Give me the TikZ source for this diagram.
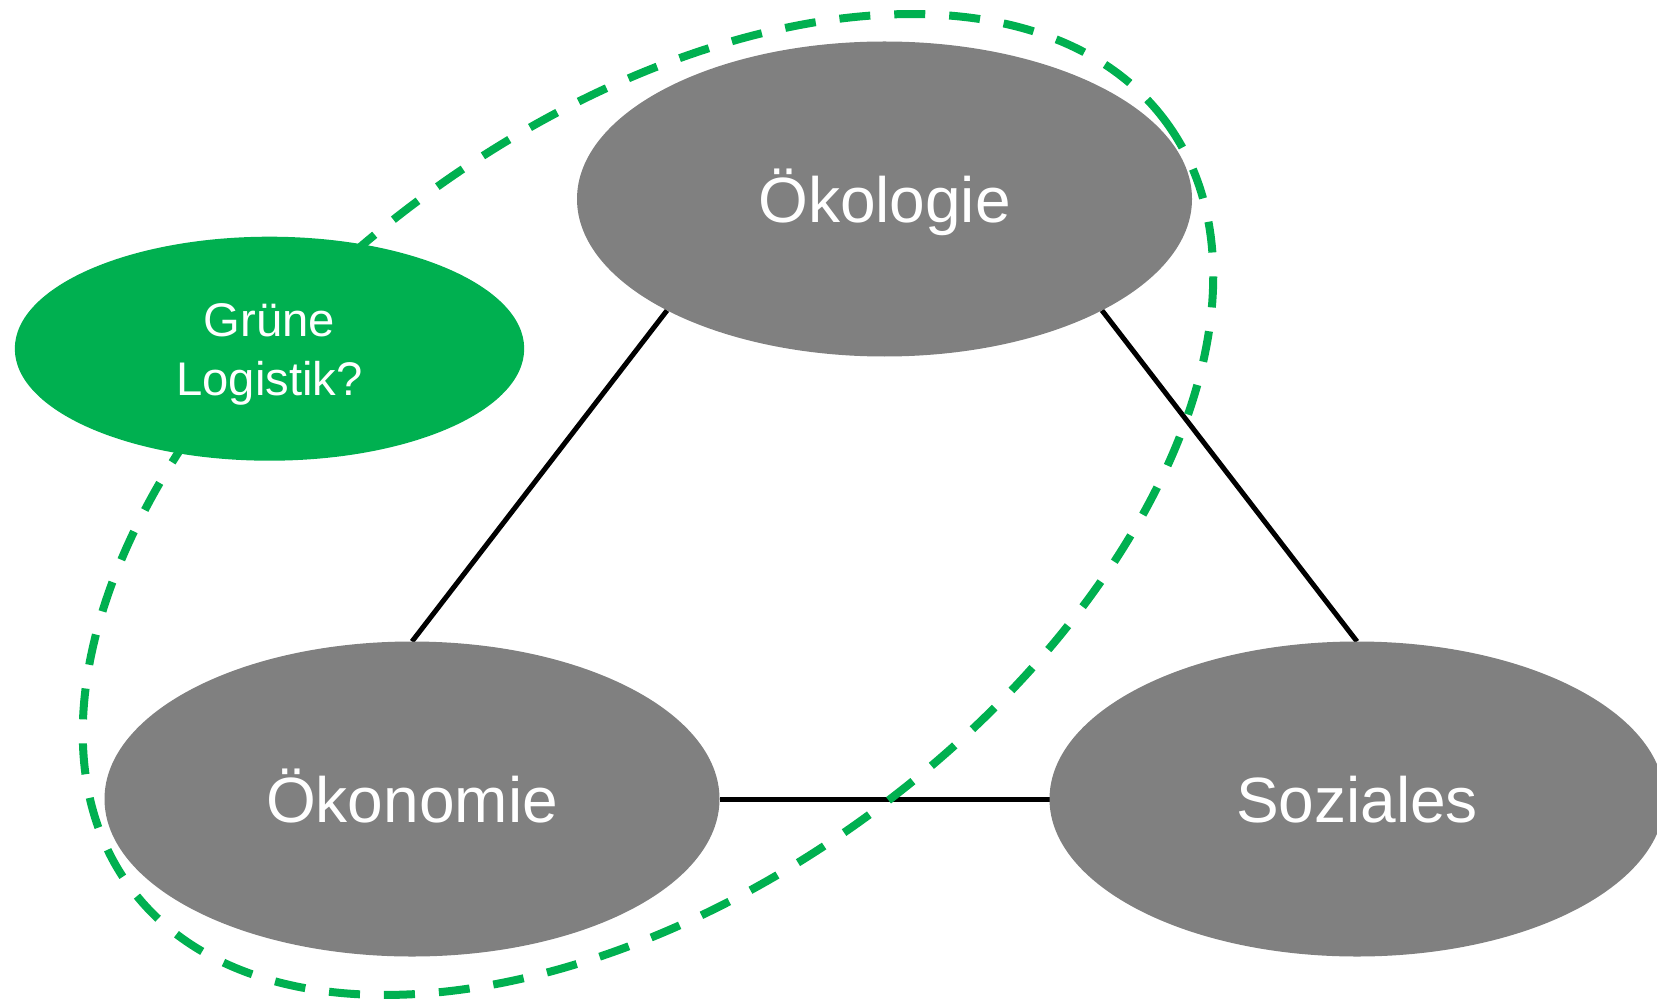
\documentclass[tikz,border=0pt]{standalone}
\usepackage{fontspec}
\setmainfont{Liberation Sans}
\usetikzlibrary{shapes.geometric,backgrounds}
\definecolor{lgreen}{HTML}{00B050}
\definecolor{pillgray}{HTML}{808080}
\begin{document}
\begin{tikzpicture}[x=0.5pt,y=-0.5pt,
  pillar/.style={ellipse, fill=pillgray, text=white, draw=none,
    minimum width=307.5pt, minimum height=157.5pt, inner sep=0pt, outer sep=0pt,
    font=\fontsize{32}{38}\selectfont, text height=23.5pt, text depth=0pt},
  greenpill/.style={ellipse, fill=lgreen, text=white, draw=none,
    minimum width=254.7pt, minimum height=112pt, inner sep=0pt, outer sep=0pt,
    font=\fontsize{23.6}{29.5}\selectfont, align=center},
  conn/.style={black, line width=2.5pt},
  grouping/.style={lgreen, line width=4pt, dash pattern=on 15.5pt off 12pt}]
\useasboundingbox (0,0) rectangle (1657,1005);
\clip (0,0) rectangle (1657,1005);
\node[pillar] (oeko) at (884.5,199) {Ökologie};
\node[pillar] (oekon) at (412,799) {Ökonomie};
\node[pillar] (soz) at (1357,799) {Soziales};
\begin{scope}[on background layer]
  \draw[conn] (oeko.south west) -- (oekon.north);
  \draw[conn] (oeko.south east) -- (soz.north);
  \draw[conn] (oekon.east) -- (soz.west);
\end{scope}
\draw[grouping, rotate around={36.5:(648,504.5)}] (648,504.5) ellipse (644 and 381);
\node[greenpill] (gl) at (269.5,348.7) {\rule{0pt}{22pt}Grüne\\Logistik?\rule[-5pt]{0pt}{5pt}};
\end{tikzpicture}
\end{document}
